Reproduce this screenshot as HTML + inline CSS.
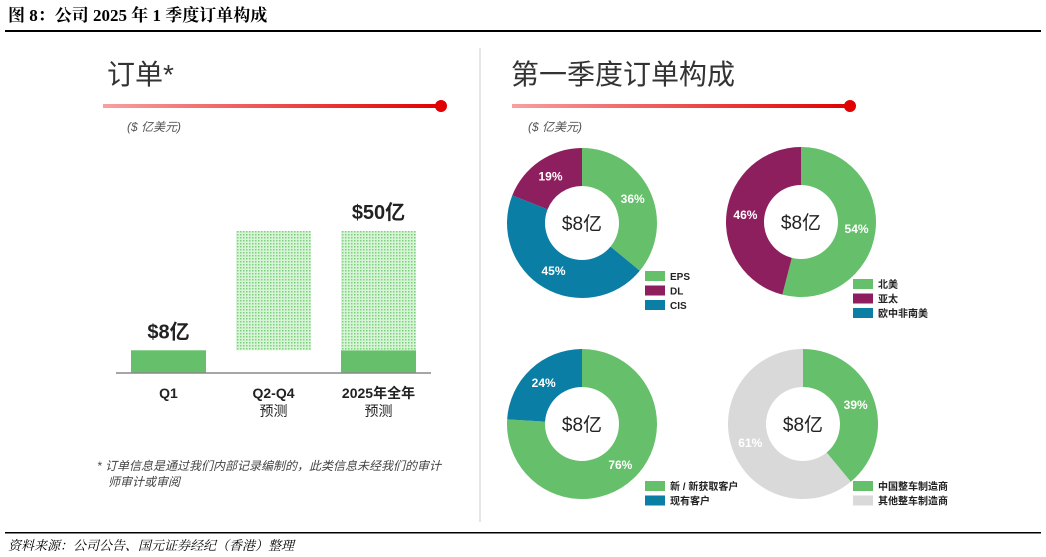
<!DOCTYPE html>
<html><head><meta charset="utf-8"><style>
body{margin:0;background:#fff;width:1046px;height:557px;overflow:hidden;font-family:"Liberation Sans","Noto Sans CJK SC",sans-serif}
svg{display:block}
</style></head><body>
<svg width="1046" height="557" viewBox="0 0 1046 557" xmlns="http://www.w3.org/2000/svg">
<defs>
<linearGradient id="rg" x1="0" x2="1"><stop offset="0" stop-color="#f8a0a0"/><stop offset="1" stop-color="#e00000"/></linearGradient>
<pattern id="dots" width="3" height="3" patternUnits="userSpaceOnUse"><rect width="3" height="3" fill="#d6f5d6"/><rect width="1.5" height="1.5" fill="#7fd17f"/></pattern>
</defs>
<text x="8" y="21" font-family="'Liberation Serif','Noto Serif CJK SC',serif" font-weight="bold" font-size="17" fill="#000">图 8：公司 2025 年 1 季度订单构成</text>
<rect x="5" y="30" width="1036" height="2" fill="#000"/>
<line x1="480" y1="48" x2="480" y2="522" stroke="#ddd" stroke-width="1.5"/>
<text x="107" y="84" font-size="28" fill="#333">订单*</text>
<rect x="103" y="104" width="337" height="4" fill="url(#rg)"/><circle cx="441" cy="106" r="6" fill="#e00000"/>
<text x="127" y="131" font-size="12" font-style="italic" fill="#555">($ 亿美元)</text>
<text x="511" y="84" font-size="28" fill="#333">第一季度订单构成</text>
<rect x="512" y="104" width="337" height="4" fill="url(#rg)"/><circle cx="850" cy="106" r="6" fill="#e00000"/>
<text x="528" y="131" font-size="12" font-style="italic" fill="#555">($ 亿美元)</text>
<g id="bars"></g>
<line x1="116" y1="373" x2="431" y2="373" stroke="#888" stroke-width="1.5"/>
<g id="pies"></g>
<text x="97" y="470" font-size="12" font-style="italic" fill="#444">* 订单信息是通过我们内部记录编制的，此类信息未经我们的审计</text>
<text x="108" y="486" font-size="12" font-style="italic" fill="#444">师审计或审阅</text>
<rect x="5" y="532" width="1036" height="1.5" fill="#000"/>
<text x="8" y="550" font-family="'Liberation Serif','Noto Serif CJK SC',serif" font-style="italic" font-size="13" fill="#000">资料来源：公司公告、国元证券经纪（香港）整理</text>
</svg>
<script>
const NS="http://www.w3.org/2000/svg";
const barCats=["Q1","Q2-Q4|预测","2025年全年|预测"];
const barBase=[0,8,0];
const barSolid=[8,0,8];
const barHatch=[0,42,42];
const barLabels=["$8亿","","$50亿"];
// slices listed clockwise from 12 o'clock
const pieValues=[[36,45,19],[54,46],[76,24],[39,61]];
const pieColors=[["#66bf6a","#0a7ea4","#8e1f5e"],["#66bf6a","#8e1f5e"],["#66bf6a","#0a7ea4"],["#66bf6a","#d9d9d9"]];
const legendLabels=[["EPS","DL","CIS"],["北美","亚太","欧中非南美"],["新 / 新获取客户","现有客户"],["中国整车制造商","其他整车制造商"]];
const legendColors=[["#66bf6a","#8e1f5e","#0a7ea4"],["#66bf6a","#8e1f5e","#0a7ea4"],["#66bf6a","#0a7ea4"],["#66bf6a","#d9d9d9"]];
const pieCenter="$8亿";
function mk(t,a,p){const e=document.createElementNS(NS,t);for(const k in a)e.setAttribute(k,a[k]);p.appendChild(e);return e;}
const y=v=>373-v*2.84;
const bg=document.getElementById('bars');
barCats.forEach((c,i)=>{
 const x=131+i*105,w=75;
 if(barSolid[i]){const r=mk('rect',{x:x,y:y(barBase[i]+barSolid[i]),width:w,height:y(barBase[i])-y(barBase[i]+barSolid[i]),fill:'#66bf6a'},bg);
 
 }
 if(barHatch[i]){const b0=barBase[i]+barSolid[i];const r=mk('rect',{x:x,y:y(b0+barHatch[i]),width:w,height:y(b0)-y(b0+barHatch[i]),fill:'url(#dots)'},bg);
 
 }
 const tot=barBase[i]+barSolid[i]+barHatch[i];
 if(barLabels[i]){const t=mk('text',{x:x+w/2,y:y(tot)-12,'text-anchor':'middle','font-size':20,'font-weight':'bold',fill:'#222'},bg);t.textContent=barLabels[i];
 
 }
 c.split('|').forEach((s,j)=>{const t=mk('text',{x:x+w/2,y:398+j*18,'text-anchor':'middle','font-size':14,'font-weight':j?'normal':'bold',fill:'#222'},bg);t.textContent=s;
 
 });
});
const pg=document.getElementById('pies');
const centers=[[582,223],[801,222],[582,424],[803,424]];
const legPos=[[645,276],[853,284],[645,486],[853,486]];
pieValues.forEach((vals,p)=>{
 const [cx,cy]=centers[p],R=75,r=37;const tot=vals.reduce((a,b)=>a+b,0);let a0=0;
 vals.forEach((v,k)=>{if(!v)return;const a1=a0+v/tot*2*Math.PI;
  const P=(rad,a)=>[cx+rad*Math.sin(a),cy-rad*Math.cos(a)];const lg=(a1-a0)>Math.PI?1:0;
  const [x0,y0]=P(R,a0),[x1,y1]=P(R,a1),[x2,y2]=P(r,a1),[x3,y3]=P(r,a0);
  const s=mk('path',{d:`M${x0},${y0}A${R},${R} 0 ${lg} 1 ${x1},${y1}L${x2},${y2}A${r},${r} 0 ${lg} 0 ${x3},${y3}Z`,fill:pieColors[p][k]},pg);
  
  
  const m=(a0+a1)/2,[lx,ly]=P(56,m);
  const t=mk('text',{x:lx,y:ly+4,'text-anchor':'middle','font-size':12,'font-weight':'bold',fill:'#fff'},pg);t.textContent=v+'%';
  
  
  a0=a1;});
 const c=mk('text',{x:cx,y:cy+7,'text-anchor':'middle','font-size':19,fill:'#222'},pg);c.textContent=pieCenter;
 
 
 legendLabels[p].forEach((l,k)=>{const [lx,ly]=legPos[p];const yy=ly+k*14.5;
  const sw=mk('rect',{x:lx,y:yy-5,width:20,height:10,fill:legendColors[p][k]},pg);
  
  
  const t=mk('text',{x:lx+25,y:yy+4,'font-size':10,'font-weight':'bold',fill:'#222'},pg);t.textContent=l;
  
  });
});
</script>
</body></html>
